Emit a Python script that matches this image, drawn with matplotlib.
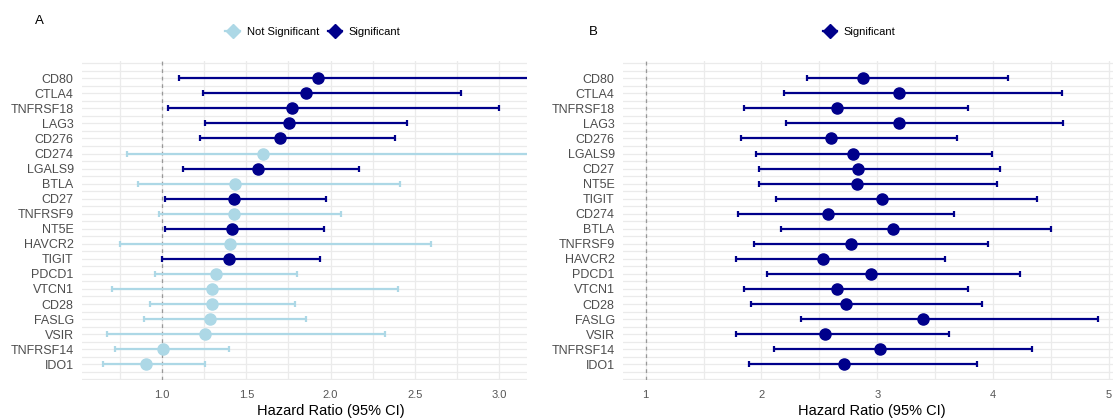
import numpy as np
import matplotlib
matplotlib.use("Agg")
from matplotlib import pyplot as plt
from matplotlib.lines import Line2D

plt.rcParams['font.family'] = ['Liberation Sans', 'DejaVu Sans']

# Panel A: all patients (top to bottom)
genes_a = ['CD80', 'CTLA4', 'TNFRSF18', 'LAG3', 'CD276', 'CD274', 'LGALS9', 'BTLA',
           'CD27', 'TNFRSF9', 'NT5E', 'HAVCR2', 'TIGIT', 'PDCD1', 'VTCN1', 'CD28',
           'FASLG', 'VSIR', 'TNFRSF14', 'IDO1']
hr_a = [1.925, 1.855, 1.770, 1.756, 1.702, 1.597, 1.567, 1.435, 1.424, 1.424,
        1.413, 1.405, 1.399, 1.317, 1.298, 1.298, 1.286, 1.252, 1.003, 0.905]
lo_a = [1.101, 1.242, 1.032, 1.252, 1.222, 0.793, 1.125, 0.855, 1.018, 0.980,
        1.018, 0.750, 1.000, 0.957, 0.702, 0.930, 0.893, 0.673, 0.722, 0.651]
hi_a = [3.35, 2.774, 3.002, 2.456, 2.385, 3.30, 2.171, 2.413, 1.972, 2.065,
        1.962, 2.595, 1.935, 1.800, 2.403, 1.792, 1.855, 2.321, 1.397, 1.252]
sig_a = [True, True, True, True, True, False, True, False, True, False,
         True, False, True, False, False, False, False, False, False, False]

# Panel B (top to bottom)
genes_b = ['CD80', 'CTLA4', 'TNFRSF18', 'LAG3', 'CD276', 'LGALS9', 'CD27', 'NT5E',
           'TIGIT', 'CD274', 'BTLA', 'TNFRSF9', 'HAVCR2', 'PDCD1', 'VTCN1', 'CD28',
           'FASLG', 'VSIR', 'TNFRSF14', 'IDO1']
hr_b = [2.875, 3.186, 2.655, 3.191, 2.603, 2.791, 2.834, 2.828, 3.044, 2.572,
        3.134, 2.774, 2.535, 2.944, 2.650, 2.728, 3.396, 2.546, 3.027, 2.710]
lo_b = [2.396, 2.197, 1.847, 2.212, 1.826, 1.950, 1.979, 1.979, 2.123, 1.800,
        2.169, 1.936, 1.780, 2.048, 1.847, 1.907, 2.342, 1.780, 2.108, 1.892]
hi_b = [4.124, 4.597, 3.787, 4.605, 3.689, 3.992, 4.061, 4.032, 4.378, 3.663,
        4.502, 3.952, 3.583, 4.228, 3.787, 3.903, 4.902, 3.623, 4.335, 3.860]

dark = '#00008B'
light = '#ADD8E6'
grid = '#EBEBEB'

fig = plt.figure(figsize=(11.13, 4.19), dpi=100)
axA = fig.add_axes([82 / 1113, 39 / 419, 445 / 1113, 319 / 419])
axB = fig.add_axes([623 / 1113, 39 / 419, 497 / 1113, 319 / 419])


def forest(ax, genes, hr, lo, hi, sig, xlim, majors, minors):
    n = len(genes)
    ypos = np.arange(n, 0, -1)
    ax.set_xlim(*xlim)
    ax.set_ylim(-0.05, n + 1.15)
    for x in list(majors) + list(minors):
        ax.axvline(x, color=grid, lw=0.9, zorder=0)
    for y in np.arange(0, n + 1.01, 0.5):
        ax.axhline(y, color=grid, lw=0.9, zorder=0)
    ax.axvline(1, color='#999999', lw=0.9, ls=(0, (3, 3)), zorder=1)
    for i in range(n):
        c = dark if sig[i] else light
        ax.errorbar(hr[i], ypos[i], xerr=[[hr[i] - lo[i]], [hi[i] - hr[i]]],
                    fmt='o', color=c, ecolor=c, elinewidth=1.6, capsize=2.2,
                    capthick=1.6, markersize=8, zorder=3)
    ax.set_yticks(ypos)
    ax.set_yticklabels(genes, fontsize=9, color='#4D4D4D')
    ax.set_xticks(majors)
    ax.tick_params(length=0, pad=6)
    ax.tick_params(axis='x', pad=7, labelsize=8, labelcolor='#555555')
    for s in ax.spines.values():
        s.set_visible(False)
    ax.set_xlabel('Hazard Ratio (95% CI)', fontsize=10.5, va='center')


forest(axA, genes_a, hr_a, lo_a, hi_a, sig_a, (0.524, 3.167),
       [1.0, 1.5, 2.0, 2.5, 3.0], [0.75, 1.25, 1.75, 2.25, 2.75])
axA.set_xticklabels(['1.0', '1.5', '2.0', '2.5', '3.0'])
axA.xaxis.set_label_coords((331 - 82) / 445, -(411 - 380) / 319)
forest(axB, genes_b, hr_b, lo_b, hi_b, [True] * 20, (0.805, 5.095),
       [1, 2, 3, 4, 5], [1.5, 2.5, 3.5, 4.5])
axB.set_xticklabels(['1', '2', '3', '4', '5'])
axB.xaxis.set_label_coords((872 - 623) / 497, -(411 - 380) / 319)

fig.text(39 / 1113, 1 - 21 / 419, 'A', fontsize=9.5, ha='center', va='center')
fig.text(593 / 1113, 1 - 32 / 419, 'B', fontsize=9.5, ha='center', va='center')

h_ns = Line2D([], [], color=light, marker='D', markersize=7, lw=1.6)
h_s = Line2D([], [], color=dark, marker='D', markersize=7, lw=1.6)
fig.legend([h_ns, h_s], ['Not Significant', 'Significant'], loc='center',
           bbox_to_anchor=(313 / 1113, 1 - 32 / 419), ncol=2, frameon=False,
           fontsize=8, handlelength=1.3, handletextpad=0.6, columnspacing=0.8)
fig.legend([h_s], ['Significant'], loc='center',
           bbox_to_anchor=(859 / 1113, 1 - 32 / 419), ncol=1, frameon=False,
           fontsize=8, handlelength=1.3, handletextpad=0.6)

fig.savefig('out.png', dpi=100)
